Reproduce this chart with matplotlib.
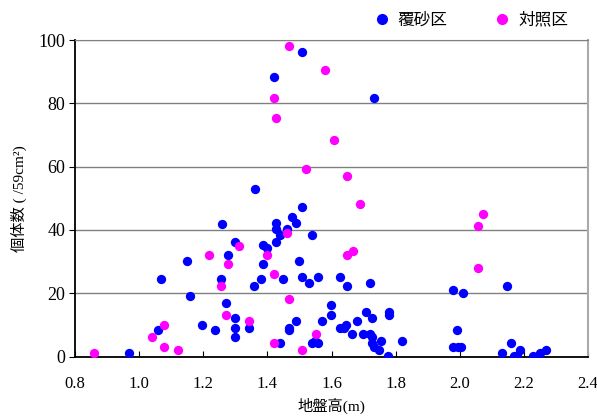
import matplotlib
matplotlib.use("Agg")
import matplotlib.pyplot as plt
from matplotlib.lines import Line2D

plt.rcParams['font.family'] = ['Liberation Serif', 'Noto Sans CJK JP']

# 覆砂区 (sand-covered plot)
sand_x = [1.26, 1.298, 1.278, 1.148, 1.067, 1.256, 1.16, 1.27, 1.298, 1.344,
          1.059, 1.196, 1.238, 1.298, 1.298, 0.969, 1.36, 1.509, 1.477, 1.428,
          1.49, 1.428, 1.46, 1.44, 1.538, 1.428, 1.386, 1.399, 1.386, 1.498,
          1.379, 1.449, 1.509, 1.558, 1.626, 1.53, 1.647, 1.72, 1.359, 1.599,
          1.599, 1.49, 1.468, 1.468, 1.571, 1.626, 1.638, 1.646, 1.678, 1.706,
          1.727, 1.778, 1.778, 1.665, 1.697, 1.719, 1.727, 1.754, 1.726, 1.734,
          1.747, 1.775, 1.819, 1.538, 1.548, 1.558, 1.44, 1.98, 2.009, 2.148,
          1.99, 1.98, 1.993, 2.005, 2.16, 2.188, 2.131, 2.168, 2.18, 2.229,
          2.25, 2.27, 1.509, 1.42, 1.734]
sand_y = [42, 36.2, 32.2, 30.1, 24.4, 24.4, 19.0, 16.9, 12.1, 9.1,
          8.3, 10.0, 8.3, 9.1, 6.3, 1.0, 53, 47.3, 44.2, 42.1,
          42.1, 40.3, 40.4, 38.4, 38.4, 36.2, 35.1, 34.3, 29.3, 30.2,
          24.4, 24.4, 25.2, 25.2, 25.2, 23.1, 22.3, 23.1, 22.3, 16.2,
          13.2, 11.2, 9.1, 8.3, 11.2, 9.1, 9.1, 10.0, 11.2, 14.1,
          12.1, 14.1, 13.2, 7.1, 7.1, 7.1, 6.3, 5.0, 4.2, 3.1,
          2.1, 0.3, 5.0, 4.2, 5.0, 4.2, 4.2, 21.0, 20.2, 22.3,
          8.4, 2.9, 2.9, 2.9, 4.2, 2.1, 1.0, 0.2, 0.2, 0.2,
          1.0, 2.1, 96.3, 88.4, 81.6]

# 対照区 (control plot)
ctrl_x = [1.31, 1.217, 1.278, 1.256, 1.27, 1.344, 1.078, 1.04, 1.078, 1.12,
          0.86, 1.46, 1.40, 1.647, 1.667, 1.42, 1.468, 1.551, 1.42, 1.509,
          2.071, 2.058, 2.058, 1.466, 1.579, 1.42, 1.428, 1.607, 1.519, 1.648,
          1.689]
ctrl_y = [35, 32.2, 29.2, 22.3, 13.2, 11.2, 10.0, 6.3, 3.1, 2.1,
          1.0, 39.1, 32.2, 32.2, 33.3, 26.1, 18.2, 7.1, 4.2, 2.1,
          45.2, 41.2, 28.0, 98.3, 90.5, 81.6, 75.3, 68.3, 59.2, 57.2,
          48.2]

x_ticks = [0.8, 1.0, 1.2, 1.4, 1.6, 1.8, 2.0, 2.2, 2.4]
y_ticks = [0, 20, 40, 60, 80, 100]

fig = plt.figure(figsize=(5.97, 4.18), dpi=100)
ax = fig.add_axes([0.1256, 0.147, 0.8594, 0.757])

ax.scatter(sand_x, sand_y, s=45, color='#0000ff', linewidths=0, zorder=3)
ax.scatter(ctrl_x, ctrl_y, s=45, color='#ff00ff', linewidths=0, zorder=4)

ax.set_xlim(0.8, 2.4)
ax.set_ylim(0, 100)
ax.set_xticks(x_ticks)
ax.set_xticklabels(['%.1f' % t for t in x_ticks])
ax.set_yticks(y_ticks)
ax.yaxis.grid(True, color='#808080', linewidth=1.0)
ax.set_axisbelow(True)

ax.tick_params(axis='x', direction='in', length=4, labelsize=12, pad=14, color='black')
ax.tick_params(axis='y', direction='out', length=4, labelsize=13, pad=3)

ax.spines['left'].set_color('black')
ax.spines['bottom'].set_color('black')
ax.spines['left'].set_linewidth(1.3)
ax.spines['bottom'].set_linewidth(1.3)
ax.spines['top'].set_color('#808080')
ax.spines['right'].set_color('#aaaaaa')
ax.spines['right'].set_linewidth(1.5)

ax.set_xlabel('地盤高(m)', fontsize=11, labelpad=4)
ax.set_ylabel('個体数 ( /59cm²)', fontsize=11, labelpad=8)

handles = [Line2D([], [], marker='o', linestyle='', color='#0000ff', markersize=7),
           Line2D([], [], marker='o', linestyle='', color='#ff00ff', markersize=7)]
fig.legend(handles, ['覆砂区', '対照区'], loc='center', bbox_to_anchor=(0.79, 0.952),
           ncol=2, frameon=False, handlelength=0.8, handletextpad=0.55, columnspacing=2.9,
           prop={'family': 'Noto Sans CJK JP', 'size': 12})

fig.savefig('out.png', dpi=100)
